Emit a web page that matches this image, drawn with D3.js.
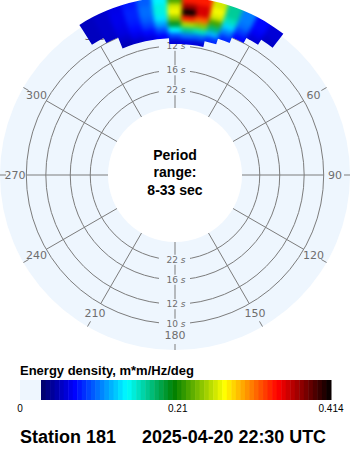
<!DOCTYPE html>
<html>
<head>
<meta charset="utf-8">
<script src="https://cdn.jsdelivr.net/npm/d3@7"></script>
<style>
  body { margin: 0; background: #fff; }
  svg { display: block; }
</style>
</head>
<body>
<div id="chart"></div>
<script>
// directional wave spectrum, station 181
const dirs = [330, 335, 340, 345, 350, 355, 0, 5, 10, 15, 20, 25, 30, 35];   // deg, bin centres
const freqs = [0.085, 0.09, 0.095, 0.10, 0.105, 0.11, 0.115, 0.12];          // Hz, band lower edges
const bandWidth = 0.005;
const energy = [
  [0,    0,    0,    0,    0,    0,    .035, .040, .035, 0,    0,    0,    0,    0   ],
  [0,    0,    .026, .032, .038, .048, .070, .080, .075, .060, 0,    0,    0,    0   ],
  [0,    0,    .032, .042, .050, .070, .120, .150, .140, .100, .060, 0,    0,    0   ],
  [0,    .030, .038, .050, .065, .095, .180, .240, .230, .160, .085, .050, 0,    0   ],
  [.028, .032, .040, .055, .075, .115, .230, .330, .310, .210, .110, .065, .035, 0   ],
  [.028, .032, .042, .058, .080, .130, .260, .414, .350, .250, .140, .080, .045, .030],
  [.028, .032, .042, .058, .080, .130, .250, .370, .350, .260, .150, .085, .050, .035],
  [.028, .032, .040, .055, .075, .120, .210, .330, .330, .250, .150, .085, .050, .035]
];
const periods = [10, 12, 16, 22];
const azimuths = [0, 30, 60, 90, 120, 150, 180, 210, 240, 270, 300, 330];
const barTicks = [0, 0.21, 0.414];
const stopValues = [0, 0.048, 0.123, 0.19, 0.262, 0.338, 0.414];
const stopColors = ['#000066', '#0000ff', '#00ffff', '#008000', '#ffff00', '#ff0000', '#000000'];

const W = 350, H = 450, cx = 175, cy = 175;
const COL = { disc: '#eef6fe', grid: '#7c7c7c', label: '#6e6e6e' };
const rad = d => d * Math.PI / 180;

const svg = d3.select('#chart').append('svg')
  .attr('width', W).attr('height', H)
  .attr('viewBox', `0 0 ${W} ${H}`);

const r = d3.scaleLinear().domain([1 / 33, 1 / 8]).range([67, 178]);
const color = d3.scaleLinear().domain(stopValues).range(stopColors).interpolate(d3.interpolateRgb);

const defs = svg.append('defs');
const g = svg.append('g').attr('transform', `translate(${cx},${cy})`);

// disc
g.append('path')
  .attr('d', d3.arc()({ innerRadius: r(1 / 33), outerRadius: 175, startAngle: 0, endAngle: 2 * Math.PI }))
  .attr('fill', COL.disc);

// period circles
g.selectAll('circle.per').data(periods).enter().append('circle')
  .attr('class', 'per')
  .attr('r', p => r(1 / p))
  .attr('fill', 'none').attr('stroke', COL.grid).attr('stroke-width', 1);

// spokes
const rOuter = r(1 / 10);
g.selectAll('line.spoke').data(azimuths).enter().append('line')
  .attr('x1', a => r(1 / 33) * Math.sin(rad(a))).attr('y1', a => -r(1 / 33) * Math.cos(rad(a)))
  .attr('x2', a => rOuter * Math.sin(rad(a))).attr('y2', a => -rOuter * Math.cos(rad(a)))
  .attr('stroke', COL.grid).attr('stroke-width', 1);

// small ticks outside labels
g.selectAll('line.tick').data(azimuths).enter().append('line')
  .attr('x1', a => 169 * Math.sin(rad(a))).attr('y1', a => -169 * Math.cos(rad(a)))
  .attr('x2', a => 175 * Math.sin(rad(a))).attr('y2', a => -175 * Math.cos(rad(a)))
  .attr('stroke', COL.grid).attr('stroke-width', 1);

// azimuth labels
g.selectAll('text.az').data(azimuths).enter().append('text')
  .attr('x', a => 160 * Math.sin(rad(a)))
  .attr('y', a => -160 * Math.cos(rad(a)))
  .attr('dy', '0.35em')
  .attr('text-anchor', 'middle')
  .attr('font-family', 'DejaVu Sans, sans-serif')
  .attr('font-size', 11)
  .attr('fill', COL.label)
  .text(a => a);

// period labels, top and bottom
const perLab = [];
periods.forEach(p => { perLab.push({ p, s: -1 }); perLab.push({ p, s: 1 }); });
const pl = g.selectAll('g.pl').data(perLab).enter().append('g')
  .attr('transform', d => `translate(0,${d.s * r(1 / d.p)})`);
pl.append('rect')
  .attr('x', -16).attr('y', -5).attr('width', 31).attr('height', 10)
  .attr('fill', COL.disc);
pl.append('text')
  .attr('x', 1).attr('dy', '0.35em')
  .attr('text-anchor', 'middle')
  .attr('font-family', 'DejaVu Sans, sans-serif')
  .attr('font-size', 9)
  .attr('fill', COL.label)
  .html(d => `${d.p}&#160;<tspan font-style="italic">s</tspan>`);

// spectrum cells
const cells = [];
freqs.forEach((f, i) => dirs.forEach((dd, j) => {
  const v = energy[i][j];
  if (v > 0) cells.push({ f, dir: dd, v });
}));
const cellArc = d => d3.arc()({
  innerRadius: r(d.f), outerRadius: r(d.f + bandWidth),
  startAngle: rad(d.dir - 2.5), endAngle: rad(d.dir + 2.5)
});

// one single path for the clip, so no seams between cells
defs.append('clipPath').attr('id', 'specClip')
  .append('path').attr('d', cells.map(cellArc).join(' '));

const filt = defs.append('filter').attr('id', 'smooth')
  .attr('filterUnits', 'userSpaceOnUse')
  .attr('x', -200).attr('y', -200).attr('width', 400).attr('height', 400)
  .attr('color-interpolation-filters', 'sRGB');
filt.append('feGaussianBlur').attr('stdDeviation', 2.2);
filt.append('feComponentTransfer').append('feFuncA').attr('type', 'linear').attr('slope', 30);

g.append('g').attr('clip-path', 'url(#specClip)')
  .append('g').attr('filter', 'url(#smooth)')
  .selectAll('path').data(cells).enter().append('path')
  .attr('d', cellArc)
  .attr('fill', d => color(d.v))
  .attr('stroke', d => color(d.v)).attr('stroke-width', 1);

// centre text
const ct = svg.append('text')
  .attr('text-anchor', 'middle')
  .attr('font-family', 'Liberation Sans, Arial, sans-serif')
  .attr('font-weight', 'bold').attr('font-size', 14)
  .attr('fill', '#000');
ct.append('tspan').attr('x', cx).attr('y', 160).text('Period');
ct.append('tspan').attr('x', cx).attr('y', 177).text('range:');
ct.append('tspan').attr('x', cx).attr('y', 195).text('8-33 sec');

// colour bar
svg.append('text')
  .attr('x', 20).attr('y', 375)
  .attr('font-family', 'Liberation Sans, Arial, sans-serif')
  .attr('font-weight', 'bold').attr('font-size', 13)
  .text('Energy density, m*m/Hz/deg');

const barY = 380, barH = 20;
svg.append('rect').attr('x', 20).attr('y', barY).attr('width', 21).attr('height', barH).attr('fill', COL.disc);
const nSteps = 64;
const xGrad = d3.scaleLinear().domain([0, nSteps]).range([41, 331]);
svg.append('g').selectAll('rect').data(d3.range(nSteps)).enter().append('rect')
  .attr('x', i => xGrad(i)).attr('y', barY)
  .attr('width', i => xGrad(i + 1) - xGrad(i) + 0.5).attr('height', barH)
  .attr('fill', i => color((i + 0.5) / nSteps * 0.414));

const xBar = d3.scaleLinear().domain([0, 0.414]).range([20, 331]);
svg.append('g').selectAll('text').data(barTicks).enter().append('text')
  .attr('x', d => xBar(d)).attr('y', 412)
  .attr('text-anchor', 'middle')
  .attr('font-family', 'Liberation Sans, Arial, sans-serif')
  .attr('font-size', 10)
  .text(d => d);

// footer
svg.append('text')
  .attr('x', 20).attr('y', 443)
  .attr('font-family', 'Liberation Sans, Arial, sans-serif')
  .attr('font-weight', 'bold').attr('font-size', 18)
  .text('Station 181');
svg.append('text')
  .attr('x', 142).attr('y', 443)
  .attr('font-family', 'Liberation Sans, Arial, sans-serif')
  .attr('font-weight', 'bold').attr('font-size', 18)
  .attr('textLength', 184).attr('lengthAdjust', 'spacingAndGlyphs')
  .text('2025-04-20 22:30 UTC');
</script>
</body>
</html>
